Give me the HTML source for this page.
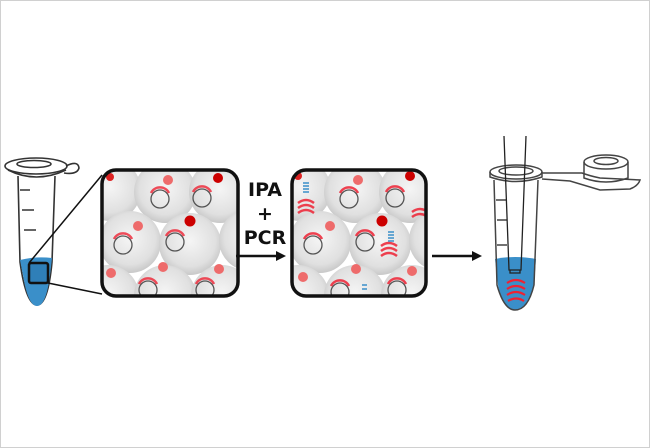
<!DOCTYPE html>
<html><head><style>
html,body{margin:0;padding:0;background:#fff;width:650px;height:448px;overflow:hidden}
svg{display:block}
text{font-family:"DejaVu Sans","Liberation Sans",sans-serif;font-weight:bold;font-size:19px;fill:#111;text-anchor:middle}
</style></head><body>
<svg width="650" height="448" viewBox="0 0 650 448" xmlns="http://www.w3.org/2000/svg">
<defs>
<radialGradient id="g" cx="0.5" cy="0.45" r="0.55">
<stop offset="0" stop-color="#f5f5f5"/><stop offset="0.75" stop-color="#e0e0e0"/><stop offset="1" stop-color="#c8c8c8"/>
</radialGradient>
<clipPath id="c1"><rect x="102" y="170" width="136" height="126" rx="14"/></clipPath>
<clipPath id="c2"><rect x="292" y="170" width="134" height="126" rx="14"/></clipPath>
<g id="sph">
<circle cx="0" cy="0" r="31" fill="url(#g)"/>
</g>
</defs>
<rect x="0.5" y="0.5" width="649" height="447" fill="#fff" stroke="#d0d0d0"/>

<!-- left tube -->
<g fill="none" stroke="#333" stroke-width="1.6">
<ellipse cx="36" cy="166" rx="31" ry="8"/>
<ellipse cx="34" cy="164" rx="17" ry="3.5"/>
<path d="M8 170 Q36 184 66 170"/>
<path d="M66 166 q12 -6 13 2 q-2 7 -15 5"/>
<path d="M18 176 L20 262 Q26 305 37 305 Q48 305 52 262 L55 176"/>
<path d="M20 190h10M22 210h12M24 230h12"/>
</g>
<path d="M20 260 Q36 256 52 258 L50 275 Q46 306 37 306 Q28 306 23 275 Z" fill="#3a8fc9"/>
<rect x="29" y="263" width="19" height="20" fill="#2f7fb8" stroke="#111" stroke-width="2.5" rx="2"/>
<line x1="29" y1="263" x2="102" y2="175" stroke="#111" stroke-width="1.5"/>
<line x1="48" y1="283" x2="102" y2="294" stroke="#111" stroke-width="1.5"/>

<!-- box 1 -->
<g clip-path="url(#c1)">
<rect x="100" y="168" width="140" height="130" fill="#fff"/>
<use href="#sph" x="110" y="190"/><use href="#sph" x="165" y="192"/><use href="#sph" x="220" y="192"/>
<use href="#sph" x="130" y="242"/><use href="#sph" x="190" y="244"/><use href="#sph" x="250" y="240"/>
<use href="#sph" x="108" y="296"/><use href="#sph" x="165" y="296"/><use href="#sph" x="222" y="296"/>
<g fill="none" stroke="#555" stroke-width="1.3">
<circle cx="160" cy="199" r="9"/><circle cx="202" cy="198" r="9"/><circle cx="123" cy="245" r="9"/><circle cx="175" cy="242" r="9"/><circle cx="148" cy="290" r="9"/><circle cx="205" cy="290" r="9"/>
</g>
<g fill="none" stroke="#e23" stroke-width="2.5" opacity="0.8">
<path d="M151 193 a10 10 0 0 1 18 0"/><path d="M193 192 a10 10 0 0 1 18 0"/><path d="M114 239 a10 10 0 0 1 18 0"/><path d="M166 236 a10 10 0 0 1 18 0"/><path d="M139 284 a10 10 0 0 1 18 0"/><path d="M196 284 a10 10 0 0 1 18 0"/>
</g>
<g fill="#ee6b6b">
<circle cx="168" cy="180" r="5"/><circle cx="138" cy="226" r="5"/><circle cx="111" cy="273" r="5"/><circle cx="163" cy="267" r="5"/><circle cx="219" cy="269" r="5"/>
</g>
<circle cx="190" cy="221" r="5.5" fill="#c00"/><circle cx="218" cy="178" r="5" fill="#c00"/><circle cx="110" cy="177" r="4" fill="#d22"/>
</g>
<rect x="102" y="170" width="136" height="126" rx="14" fill="none" stroke="#111" stroke-width="3.5"/>

<text x="265" y="196">IPA</text>
<text x="265" y="220">+</text>
<text x="265" y="244">PCR</text>
<line x1="236" y1="256" x2="278" y2="256" stroke="#111" stroke-width="2.5"/>
<path d="M286 256 L276 251 L276 261 Z" fill="#111"/>

<!-- box 2 -->
<g clip-path="url(#c2)">
<rect x="290" y="168" width="140" height="130" fill="#fff"/>
<use href="#sph" x="300" y="190"/><use href="#sph" x="355" y="192"/><use href="#sph" x="410" y="192"/>
<use href="#sph" x="320" y="242"/><use href="#sph" x="380" y="244"/><use href="#sph" x="440" y="240"/>
<use href="#sph" x="298" y="296"/><use href="#sph" x="355" y="296"/><use href="#sph" x="412" y="296"/>
<g fill="none" stroke="#555" stroke-width="1.3">
<circle cx="349" cy="199" r="9"/><circle cx="395" cy="198" r="9"/><circle cx="313" cy="245" r="9"/><circle cx="365" cy="242" r="9"/><circle cx="340" cy="292" r="9"/><circle cx="397" cy="290" r="9"/>
</g>
<g fill="none" stroke="#e23" stroke-width="2.5" opacity="0.85">
<path d="M340 193 a10 10 0 0 1 18 0"/><path d="M386 192 a10 10 0 0 1 18 0"/><path d="M304 239 a10 10 0 0 1 18 0"/><path d="M356 236 a10 10 0 0 1 18 0"/><path d="M331 286 a10 10 0 0 1 18 0"/><path d="M388 284 a10 10 0 0 1 18 0"/>
<path d="M298 203 q8 -6 16 0 M298 208 q8 -6 16 0 M298 213 q8 -6 16 0"/>
<path d="M381 246 q8 -6 16 0 M381 251 q8 -6 16 0 M381 256 q8 -6 16 0"/>
<path d="M412 212 q8 -6 16 0 M412 217 q8 -6 16 0"/>
</g>
<g stroke="#3a8fc9" stroke-width="1.5" fill="none">
<path d="M303 183 h6 M303 186 h6 M303 189 h6 M303 192 h6"/>
<path d="M388 232 h6 M388 235 h6 M388 238 h6 M388 241 h6"/>
<path d="M362 285 h5 M362 289 h5"/>
</g>
<g fill="#ee6b6b">
<circle cx="358" cy="180" r="5"/><circle cx="330" cy="226" r="5"/><circle cx="303" cy="277" r="5"/><circle cx="356" cy="269" r="5"/><circle cx="412" cy="271" r="5"/>
</g>
<circle cx="382" cy="221" r="5.5" fill="#c00"/><circle cx="410" cy="176" r="5" fill="#c00"/><circle cx="298" cy="176" r="4" fill="#d22"/>
</g>
<rect x="292" y="170" width="134" height="126" rx="14" fill="none" stroke="#111" stroke-width="3.5"/>

<line x1="432" y1="256" x2="474" y2="256" stroke="#111" stroke-width="2.5"/>
<path d="M482 256 L472 251 L472 261 Z" fill="#111"/>

<!-- right tube -->
<path d="M495 259 Q515 255 536 259 L534 285 Q528 310 515 310 Q503 310 498 285 Z" fill="#3a8fc9"/>
<g fill="none" stroke="#444" stroke-width="1.5">
<ellipse cx="516" cy="172" rx="26" ry="7"/>
<ellipse cx="516" cy="171" rx="17" ry="4"/>
<path d="M490 172 v5 Q516 186 542 177 v-5"/>
<path d="M541 173 L582 173 Q590 176 600 178 L640 180 Q638 186 630 189 L600 190 L570 181 L542 179"/>
<path d="M584 162 v16 Q606 186 628 178 v-16"/>
<ellipse cx="606" cy="162" rx="22" ry="7"/>
<ellipse cx="606" cy="161" rx="12" ry="3.5"/>
<path d="M494 180 L497 285 Q504 310 515 310 Q528 310 534 285 L538 180"/>
<path d="M496 200h10M497 220h10M497 245h10"/>
</g>
<g stroke="#222" stroke-width="1.3" fill="none">
<path d="M504 136 L509 270 L521 270 L526 136"/>
<path d="M510 270 v3 h10 v-3"/>
</g>
<g fill="none" stroke="#e23" stroke-width="2.2">
<path d="M507 283 q9 -6 18 0 M507 289 q9 -6 18 0 M507 295 q9 -6 18 0 M508 301 q8 -5 16 0"/>
</g>
</svg>
</body></html>
